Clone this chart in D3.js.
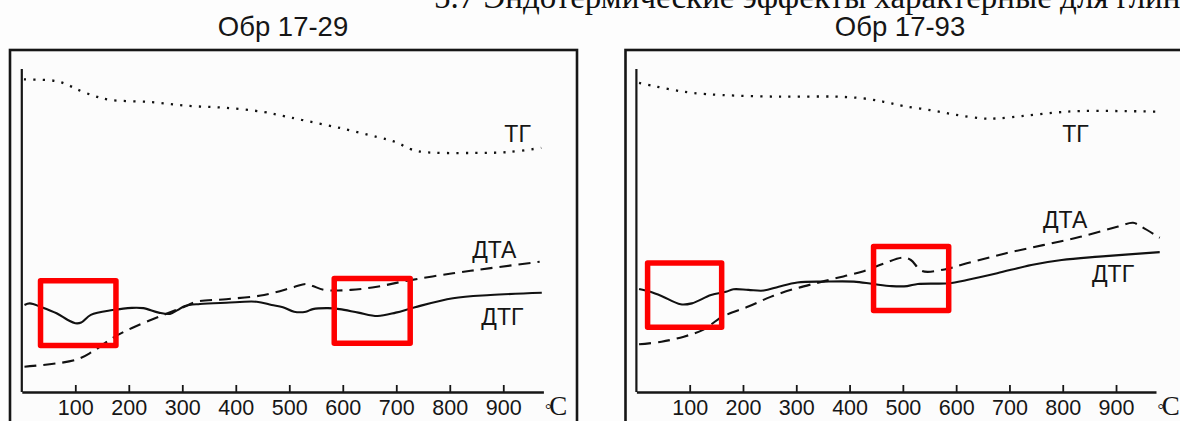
<!DOCTYPE html>
<html>
<head>
<meta charset="utf-8">
<script src="https://cdn.jsdelivr.net/npm/d3@7"></script>
<style>
  html, body { margin: 0; padding: 0; background: #fdfdfd; overflow: hidden; }
  svg { display: block; }
</style>
</head>
<body>
<svg id="chart" width="1180" height="421"></svg>
<script>
// ---------------- DATA ----------------
const headerText = "5.7  Эндотермические эффекты характерные для глин";
const panelTitles = ["Обр 17-29", "Обр 17-93"];
const tickValues = [100, 200, 300, 400, 500, 600, 700, 800, 900];
const unitLabel = "C";

// Panel 1 (Обр 17-29): temperature (°C) and relative signal (arb. units)
const tg1T   = [4, 54, 71, 87, 103, 134, 165, 241, 313, 382, 453, 488, 524, 595, 664, 699, 727, 750, 842, 911, 971];
const tg1V   = [97.7, 97.4, 96.9, 95.9, 94.6, 92.6, 91.3, 90.6, 89.4, 88.8, 87.5, 86.3, 85.0, 82.5, 79.7, 78.1, 75.9, 75.0, 74.7, 75.0, 76.3];
const dta1T  = [5, 100, 132, 170, 206, 256, 305, 326, 382, 453, 509, 531, 544, 566, 615, 664, 721, 806, 876, 968];
const dta1V  = [7.9, 10.0, 12.6, 16.9, 20.0, 23.5, 26.7, 28.2, 29.0, 30.3, 32.8, 33.75, 33.1, 31.9, 31.9, 32.9, 34.8, 37.1, 38.7, 40.7];
const dtg1T  = [5, 15, 37, 65, 86, 100, 111, 129, 170, 206, 227, 256, 277, 291, 305, 333, 382, 439, 467, 488, 509, 531, 544, 572, 594, 629, 665, 699, 735, 806, 876, 972];
const dtg1V  = [27.2, 27.7, 26.5, 24.6, 22.5, 21.5, 21.7, 24.1, 25.6, 26.3, 26.2, 24.8, 24.4, 25.6, 26.9, 27.5, 27.9, 28.2, 27.2, 26.5, 25.1, 25.1, 25.9, 26.2, 25.9, 24.8, 23.75, 24.8, 26.5, 29.3, 30.3, 31.0];
// highlighted effect zones: [T0, T1, V0, V1]
const boxes1 = [[35, 176, 14.5, 34.8], [584, 726, 15.2, 35.5]];

// Panel 2 (Обр 17-93)
const tg2T   = [5, 33, 69, 104, 161, 267, 373, 423, 464, 500, 551, 600, 648, 677, 727, 784, 833, 904, 986];
const tg2V   = [96.6, 95.6, 94.4, 93.5, 92.8, 92.3, 92.3, 91.8, 90.7, 89.4, 88.1, 86.6, 85.5, 85.5, 86.3, 87.3, 87.8, 87.8, 87.6];
const dta2T  = [5, 47, 89, 125, 161, 210, 253, 296, 337, 373, 423, 465, 500, 515, 536, 578, 620, 692, 763, 833, 904, 932, 947, 982];
const dta2V  = [14.9, 15.7, 17.3, 19.4, 23.5, 26.7, 29.8, 32.2, 34.0, 35.5, 37.6, 40.2, 42.0, 41.25, 37.8, 38.3, 40.2, 43.3, 45.9, 48.5, 51.7, 52.9, 51.7, 48.2];
const dtg2T  = [5, 26, 47, 83, 104, 140, 168, 182, 210, 239, 267, 302, 352, 408, 444, 479, 508, 528, 586, 620, 677, 741, 798, 868, 982];
const dtg2V  = [32.2, 31.3, 30.0, 27.4, 27.7, 30.3, 31.3, 32.1, 31.9, 31.7, 32.9, 34.2, 34.5, 34.5, 33.75, 33.1, 33.1, 33.75, 34.0, 35.0, 37.1, 39.7, 41.25, 42.3, 43.7];
const boxes2 = [[21, 160, 20.2, 40.3], [445, 586, 25.5, 45.5]];

// curve labels: [text, T, V]
const labels1 = [["ТГ", 902, 78.1], ["ДТА", 842, 41.9], ["ДТГ", 859, 20.9]];
const labels2 = [["ТГ", 799, 78.1], ["ДТА", 763, 51.25], ["ДТГ", 855, 34.4]];

// ---------------- LAYOUT ----------------
const panels = [
  { title: panelTitles[0], titleX: 283, frame: [10, 50, 567, 420], xRange: [21.8, 543.4],
    tg: [tg1T, tg1V], dta: [dta1T, dta1V], dtg: [dtg1T, dtg1V], boxes: boxes1, labels: labels1, unitX: 545 },
  { title: panelTitles[1], titleX: 900, frame: [625.5, 50, 600, 420], xRange: [636.4, 1156],
    tg: [tg2T, tg2V], dta: [dta2T, dta2V], dtg: [dtg2T, dtg2V], boxes: boxes2, labels: labels2, unitX: 1157.5 }
];
const baseY = 392, topY = 72, axisTop = 69;
const ink = "#161616";
const sans = "'Liberation Sans', Arial, sans-serif";
const serif = "'Liberation Serif', 'Times New Roman', serif";

const svg = d3.select("#chart");
svg.append("rect").attr("width", 1180).attr("height", 421).attr("fill", "#fdfdfd");

// header (cut at the top, as in the source page)
svg.append("text").attr("x", 434).attr("y", 8)
  .attr("font-family", serif).attr("font-size", 33).attr("fill", "#111")
  .text(headerText);

const yScale = d3.scaleLinear().domain([0, 100]).range([baseY, topY]);

panels.forEach(p => {
  const g = svg.append("g");
  const x = d3.scaleLinear().domain([0, 975]).range(p.xRange);

  // frame
  g.append("rect").attr("x", p.frame[0]).attr("y", p.frame[1])
    .attr("width", p.frame[2]).attr("height", p.frame[3])
    .attr("fill", "#fcfcfc").attr("stroke", ink).attr("stroke-width", 2.6);

  // title
  g.append("text").attr("x", p.titleX).attr("y", 35.5)
    .attr("text-anchor", "middle").attr("font-family", sans).attr("font-size", 27.5)
    .attr("fill", ink).text(p.title);

  // y axis (no ticks)
  g.append("line").attr("x1", x(0)).attr("x2", x(0))
    .attr("y1", yScale(0)).attr("y2", axisTop)
    .attr("stroke", ink).attr("stroke-width", 2.2);

  // x axis
  const ax = g.append("g").attr("transform", `translate(0,${baseY})`)
    .call(d3.axisBottom(x).tickValues(tickValues).tickSizeInner(-7).tickSizeOuter(0).tickPadding(8));
  ax.select(".domain").attr("stroke", ink).attr("stroke-width", 2.6);
  ax.selectAll(".tick line").attr("stroke", ink).attr("stroke-width", 1.8);
  ax.selectAll(".tick text").attr("font-family", sans).attr("font-size", 21.5).attr("fill", ink);

  // unit
  const u = g.append("text").attr("x", p.unitX).attr("y", 414.5)
    .attr("font-family", serif).attr("fill", ink);
  u.append("tspan").attr("font-size", 17).text("°");
  u.append("tspan").attr("font-size", 27).attr("dx", -2.5).text(unitLabel);

  const line = d3.line().curve(d3.curveCatmullRom.alpha(0.5))
    .x(d => x(d[0])).y(d => yScale(d[1]));
  const zip = (a) => a[0].map((t, i) => [t, a[1][i]]);

  // TG dotted
  g.append("path").attr("d", line(zip(p.tg))).attr("fill", "none")
    .attr("stroke", "#111").attr("stroke-width", 2.3).attr("stroke-dasharray", "2.2 7.2");
  // DTA dashed
  g.append("path").attr("d", line(zip(p.dta))).attr("fill", "none")
    .attr("stroke", "#111").attr("stroke-width", 2.1).attr("stroke-dasharray", "12 7");
  // DTG solid
  g.append("path").attr("d", line(zip(p.dtg))).attr("fill", "none")
    .attr("stroke", "#111").attr("stroke-width", 2.1);

  // red boxes
  g.selectAll(".box").data(p.boxes).enter().append("rect")
    .attr("x", d => x(d[0])).attr("y", d => yScale(d[3]))
    .attr("width", d => x(d[1]) - x(d[0])).attr("height", d => yScale(d[2]) - yScale(d[3]))
    .attr("fill", "none").attr("stroke", "#fe0000").attr("stroke-width", 5.5)
    .attr("stroke-linejoin", "round");

  // curve labels
  g.selectAll(".lbl").data(p.labels).enter().append("text")
    .attr("x", d => x(d[1])).attr("y", d => yScale(d[2]))
    .attr("font-family", sans).attr("font-size", 23).attr("fill", ink)
    .text(d => d[0]);
});
</script>
</body>
</html>
